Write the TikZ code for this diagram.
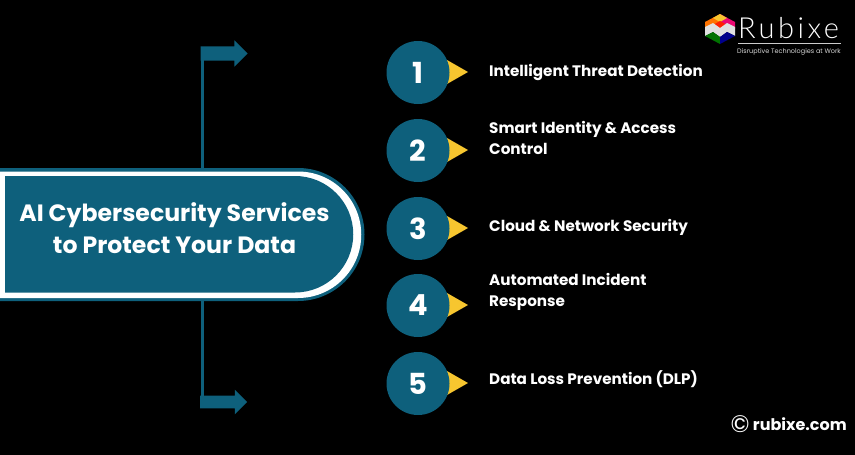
\documentclass[tikz,border=0pt]{standalone}
\usepackage{fontspec}
\setmainfont{Poppins}
\newfontfamily\logofont{Lato Light}[LetterSpace=12]
\usetikzlibrary{shapes.arrows}
\definecolor{tealmain}{HTML}{0E607C}
\definecolor{goldtri}{HTML}{F7C62F}
\tikzset{
  num/.style={circle,fill=tealmain,text=white,minimum size=63pt,inner sep=0pt,font=\fontsize{29}{29}\selectfont\bfseries},
  lab/.style={anchor=west,text=white,align=left,inner sep=0pt,font=\fontsize{15.2}{20.5}\selectfont\bfseries},
  conn/.style={draw=tealmain,line width=3pt},
  bigarrow/.style={single arrow,fill=tealmain,minimum height=47pt,single arrow head extend=6pt,single arrow head indent=0pt,inner sep=0pt},
  pointer/.style={fill=goldtri}
}
\begin{document}
\begin{tikzpicture}[x=1pt,y=-1pt]
\useasboundingbox (0,0) rectangle (855,455);
\fill[black] (0,0) rectangle (855,455);
% arrows and connectors
\node[bigarrow] (upArrow) at (220.5,53.5) {\rule{0pt}{14pt}};
\node[bigarrow] (downArrow) at (220.5,402) {\rule{0pt}{12.5pt}};
\coordinate (upElbow) at (202,47);
\coordinate (downElbow) at (202,403);
\node[minimum width=365pt,minimum height=133pt,inner sep=0pt] (banner) at (182.5,234.5) {};
\draw[conn] (banner.north -| upElbow) -- (upElbow);
\draw[conn] (banner.south -| downElbow) -- (downElbow);
% banner
\fill[tealmain] (0,168) -- (298,168) arc[start angle=-90,end angle=90,radius=66.5] -- (0,301) -- cycle;
\fill[white] (0,171.5) -- (298,171.5) arc[start angle=-90,end angle=90,radius=63.25] -- (0,298) -- cycle;
\fill[tealmain] (5,176) -- (295,176) arc[start angle=-90,end angle=90,radius=58.25] -- (5,292.5) -- cycle;
\node[text=white,align=center,inner sep=0pt,font=\fontsize{23.6}{32}\selectfont\bfseries] (title) at (174.5,228.5) {AI Cybersecurity Services\\to Protect Your Data};
% items
\foreach \n/\y in {1/72,2/150,3/228,4/305,5/383}{
  \fill[pointer] (447,\y-12) -- (468,\y) -- (447,\y+12) -- cycle;
  \node[num] (c\n) at (418,\y+0.5) {\n};
}
\node[lab] (t1) at (489,72.5) {Intelligent Threat Detection};
\node[lab] (t2) at (489,138) {Smart Identity \& Access\\Control};
\node[lab] (t3) at (489,227.5) {Cloud \& Network Security};
\node[lab] (t4) at (489,292) {Automated Incident\\Response};
\node[lab] (t5) at (489,379) {Data Loss Prevention (DLP)};
% logo
\fill[orange!90!red] (720,14) -- (705,22) -- (705,29) -- (720,29) -- cycle;
\fill[magenta!75!red] (720,14) -- (735,22) -- (735,29) -- (720,29) -- cycle;
\fill[goldtri] (713,18) -- (720,14) -- (727,18) -- (720,22) -- cycle;
\fill[red!75!orange] (713,25) -- (720,21) -- (727,25) -- (720,29) -- cycle;
\fill[white!88!black] (705,27) -- (713,23) -- (720,28) -- (727,23) -- (735,27) -- (735,36) -- (727,32) -- (720,37) -- (713,32) -- (705,36) -- cycle;
\fill[green!45!black] (705,36) -- (713,32) -- (720,37) -- (720,44) -- cycle;
\fill[blue!55!black] (720,37) -- (727,32) -- (735,36) -- (720,44) -- cycle;
\node[anchor=west,text=white,inner sep=0pt,font=\logofont\fontsize{29}{29}\selectfont] (rub) at (738,28) {Rubixe};
\draw[white!80!black,line width=0.6pt] (738,43.5) -- (841,43.5);
\node[anchor=west,text=white!85!black,inner sep=0pt,font=\fontsize{6.5}{6.5}\selectfont] (tag) at (737,51.5) {Disruptive Technologies at Work};
\node[anchor=center,text=white,inner sep=0pt,font=\fontsize{24}{24}\selectfont] (copy) at (740,424.5) {©};
\node[anchor=east,text=white,inner sep=0pt,font=\fontsize{16}{16}\selectfont\bfseries] (web) at (847,424) {rubixe.com};
\end{tikzpicture}
\end{document}
